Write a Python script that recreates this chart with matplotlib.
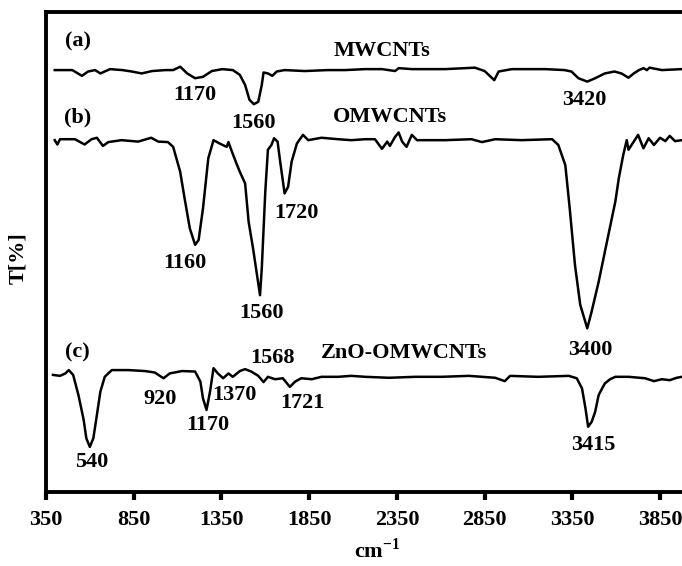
import matplotlib
matplotlib.use("Agg")
import matplotlib.pyplot as plt

# FTIR spectra, values (offset transmittance, a.u.)
wn_a = [400, 500, 555, 590, 630, 660, 715, 785, 840, 895, 955, 1030, 1075, 1115,
        1155, 1200, 1245, 1295, 1355, 1415, 1455, 1485, 1510, 1535, 1560, 1580,
        1590, 1615, 1640, 1665, 1710, 1825, 1955, 2055, 2170, 2265, 2340, 2360,
        2435, 2625, 2795, 2850, 2905, 2930, 3005, 3195, 3305, 3345, 3385, 3435,
        3480, 3535, 3590, 3630, 3670, 3700, 3730, 3755, 3775, 3790, 3860, 3975]
t_a = [87.9, 87.9, 86.7, 87.6, 87.9, 87.2, 88.1, 87.9, 87.6, 87.2, 87.7, 87.9, 87.9, 88.6,
       87.2, 86.2, 86.5, 87.7, 88.1, 87.9, 86.9, 84.8, 81.7, 80.8, 81.3, 84.8,
       87.4, 87.2, 86.7, 87.6, 87.9, 87.7, 87.9, 87.9, 88.1, 88.1, 87.7, 88.3,
       88.1, 88.1, 88.4, 87.7, 85.8, 87.6, 88.1, 88.1, 87.9, 87.6, 86.2, 85.5,
       86.2, 87.2, 87.6, 87.2, 86.3, 87.2, 87.9, 88.3, 87.9, 88.4, 87.9, 88.1]

wn_b = [400, 415, 430, 515, 570, 610, 640, 675, 705, 780, 875, 950, 990, 1045, 1075,
        1115, 1140, 1170, 1200, 1220, 1245, 1275, 1305, 1340, 1380, 1390, 1410,
        1435, 1455, 1485, 1505, 1530, 1550, 1570, 1580, 1600, 1615, 1635, 1650,
        1670, 1685, 1710, 1730, 1750, 1780, 1815, 1845, 1920, 2015, 2090, 2170,
        2225, 2265, 2295, 2310, 2340, 2360, 2380, 2405, 2435, 2465, 2625, 2775,
        2835, 2910, 3060, 3235, 3270, 3310, 3335, 3365, 3395, 3435, 3460, 3500,
        3555, 3595, 3615, 3640, 3660, 3670, 3700, 3725, 3755, 3785, 3815, 3850,
        3880, 3905, 3935, 3975]
t_b = [73.3, 72.4, 73.5, 73.5, 72.4, 73.5, 73.8, 72.1, 72.9, 73.3, 73.0, 73.8, 73.0, 72.9, 71.9,
       66.7, 61.2, 54.9, 51.5, 52.5, 59.1, 69.5, 73.3, 72.6, 71.9, 72.9, 70.9,
       68.5, 66.7, 64.3, 56.3, 50.8, 45.9, 41.0, 46.6, 62.6, 71.3, 72.3, 73.7,
       73.0, 68.8, 62.2, 63.6, 68.8, 72.6, 74.4, 73.3, 73.8, 73.5, 73.3, 73.5,
       73.5, 71.5, 73.0, 72.1, 74.0, 74.9, 73.0, 71.9, 74.4, 73.3, 73.3, 73.5,
       72.9, 73.5, 73.3, 73.5, 72.3, 68.1, 59.1, 47.3, 39.0, 34.1, 37.6, 43.8,
       53.5, 60.5, 65.4, 70.2, 73.3, 71.3, 73.0, 74.4, 71.6, 73.7, 72.3, 73.8,
       73.1, 74.2, 73.1, 73.3]

wn_c = [390, 430, 460, 480, 505, 535, 565, 580, 600, 620, 640, 660, 685, 725, 820,
        915, 970, 1020, 1055, 1125, 1200, 1230, 1245, 1265, 1285, 1305, 1330,
        1360, 1390, 1415, 1455, 1485, 1520, 1560, 1590, 1615, 1655, 1700, 1740,
        1770, 1805, 1865, 1920, 2015, 2090, 2170, 2305, 2455, 2605, 2760, 2910,
        2965, 2995, 3155, 3330, 3375, 3405, 3425, 3440, 3460, 3480, 3500, 3520,
        3535, 3565, 3595, 3670, 3765, 3815, 3860, 3905, 3945, 3975]
t_c = [24.4, 24.2, 24.7, 25.4, 24.4, 20.2, 15.0, 11.2, 9.4, 11.2, 16.0, 20.9, 24.0, 25.4, 25.4,
       25.2, 24.9, 23.7, 24.7, 25.2, 25.1, 23.0, 19.5, 17.1, 20.9, 25.8, 24.7,
       23.7, 24.7, 24.0, 25.2, 25.6, 25.1, 24.2, 22.9, 24.0, 23.5, 23.7, 21.9,
       23.0, 23.7, 23.5, 24.0, 24.0, 24.2, 24.0, 23.8, 24.0, 24.0, 24.2, 23.8,
       23.1, 24.2, 24.0, 24.2, 23.7, 21.6, 17.4, 13.6, 14.6, 16.7, 20.2, 21.6,
       22.6, 23.5, 24.0, 24.0, 23.7, 23.1, 23.5, 23.3, 23.8, 24.0]

# text annotations: (label, wavenumber, T)
labels = [
    ("(a)", 530, 93.8), ("MWCNTs", 2265, 91.9), ("1170", 1200, 82.7),
    ("1560", 1530, 76.9), ("3420", 3420, 81.7),
    ("(b)", 530, 78.1), ("OMWCNTs", 2310, 78.1), ("1160", 1140, 47.7),
    ("1560", 1580, 37.3), ("1720", 1780, 58.1), ("3400", 3450, 29.6),
    ("(c)", 530, 29.0), ("ZnO-OMWCNTs", 2390, 29.0), ("1568", 1640, 27.9),
    ("920", 1000, 19.4), ("1370", 1427, 20.2), ("1170", 1273, 14.0),
    ("1721", 1814, 18.5), ("540", 612, 6.3), ("3415", 3467, 9.8),
]
xticks = [350, 850, 1350, 1850, 2350, 2850, 3350, 3850]

plt.rcParams["font.family"] = "Liberation Serif"
plt.rcParams["font.weight"] = "bold"
plt.rcParams["mathtext.fontset"] = "custom"
plt.rcParams["mathtext.rm"] = "Liberation Serif:bold"

fig = plt.figure(figsize=(6.82, 5.66), dpi=100)
ax = fig.add_axes([0.0674, 0.1307, 0.9326, 0.8481])

for wn, t in [(wn_a, t_a), (wn_b, t_b), (wn_c, t_c)]:
    ax.plot(wn, t, color="black", linewidth=1.8, solid_joinstyle="round")

for txt, x, y in labels:
    ax.text(x, y, txt, ha="center", va="center", fontsize=16, fontweight="bold")

ax.set_xlim(350, 3975)
ax.set_ylim(0, 100)
ax.set_xticks(xticks)
ax.set_xticklabels([str(v) for v in xticks], fontsize=16, fontweight="bold")
ax.set_yticks([])
ax.tick_params(axis="x", direction="out", length=6, width=3, pad=7)
ax.spines["right"].set_visible(False)
for s in ["left", "top", "bottom"]:
    ax.spines[s].set_linewidth(2.8)

fig.text(0.553, 0.028, r"cm$^{\mathrm{-1}}$", ha="center", va="center", fontsize=16,
         fontweight="bold")
fig.text(0.026, 0.544, "T[%]", rotation=90, ha="center", va="center", fontsize=16,
         fontweight="bold")

fig.savefig("out.png", dpi=100)
